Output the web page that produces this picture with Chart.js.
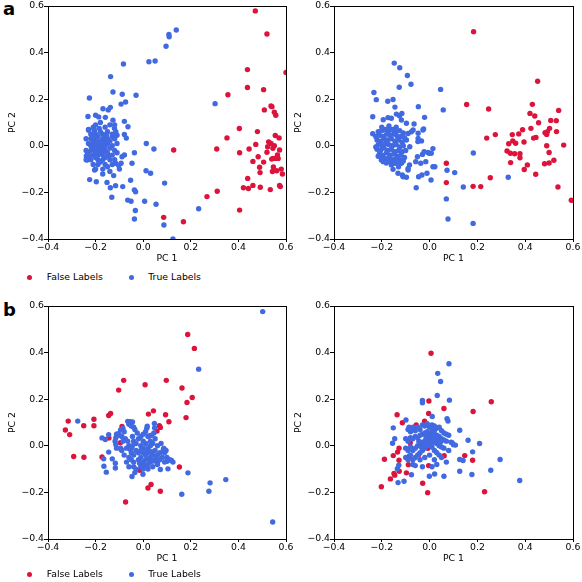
<!DOCTYPE html>
<html><head><meta charset="utf-8">
<script src="https://cdn.jsdelivr.net/npm/chart.js@4"></script>
<style>
html,body{margin:0;padding:0;background:#fff;overflow:hidden;width:582px;height:582px;position:relative}
canvas{position:absolute}
.lab{position:absolute;font:bold 18px "DejaVu Sans";line-height:18px;color:#000}
.leg{position:absolute;font:9.3px "DejaVu Sans";line-height:12px;color:#000;white-space:nowrap}
.dot{position:absolute;width:5px;height:5px;border-radius:50%}
</style></head>
<body>
<div class="lab" style="left:3px;top:0px">a</div>
<div class="lab" style="left:3px;top:301px">b</div>
<canvas id="c1" width="300" height="270" style="left:0px;top:0px"></canvas>
<canvas id="c2" width="296" height="270" style="left:286px;top:0px"></canvas>
<canvas id="c3" width="300" height="270" style="left:0px;top:300px"></canvas>
<canvas id="c4" width="296" height="270" style="left:286px;top:300px"></canvas>
<div id="legA"></div><div id="legB"></div>
<script>
const seriesNames = ["False Labels", "True Labels"];
const seriesColors = ["#DC143C", "#4169E1"];
const axisTicks = [-0.4, -0.2, 0.0, 0.2, 0.4, 0.6];
const xTitle = "PC 1";
const yTitle = "PC 2";

const aLeftFalse = [[0.471,0.579],[0.520,0.480],[0.600,0.315],[0.438,0.327],[0.438,0.250],[0.356,0.219],[0.506,0.241],[0.509,0.154],[0.537,0.171],[0.541,0.168],[0.551,0.144],[0.557,0.131],[0.404,0.074],[0.352,0.034],[0.480,0.061],[0.555,0.044],[0.571,0.034],[0.128,-0.018],[0.309,-0.014],[0.405,-0.030],[0.445,-0.014],[0.473,0.006],[0.527,0.017],[0.537,0.010],[0.551,0.000],[0.523,-0.004],[0.545,-0.011],[0.573,-0.018],[0.520,-0.028],[0.483,-0.047],[0.564,-0.039],[0.567,-0.054],[0.545,-0.054],[0.540,-0.057],[0.555,-0.054],[0.461,-0.067],[0.506,-0.070],[0.489,-0.092],[0.547,-0.091],[0.561,-0.107],[0.543,-0.110],[0.580,-0.100],[0.585,-0.121],[0.491,-0.115],[0.439,-0.140],[0.421,-0.180],[0.442,-0.183],[0.461,-0.170],[0.492,-0.178],[0.534,-0.188],[0.573,-0.170],[0.576,-0.175],[0.311,-0.195],[0.268,-0.218],[0.405,-0.276],[0.169,-0.326],[0.086,-0.307]];
const aLeftTrue = [[0.139,0.497],[0.108,0.478],[0.109,0.468],[0.096,0.427],[0.024,0.361],[0.050,0.364],[-0.083,0.351],[-0.137,0.297],[-0.127,0.231],[-0.226,0.205],[-0.088,0.221],[-0.074,0.188],[-0.093,0.179],[-0.030,0.217],[0.302,0.181],[-0.169,0.159],[-0.147,0.154],[-0.138,0.165],[-0.232,0.126],[-0.200,0.131],[-0.187,0.124],[-0.159,0.122],[-0.127,0.110],[-0.079,0.105],[-0.064,0.082],[-0.121,0.075],[-0.229,0.067],[-0.208,0.075],[-0.079,0.049],[-0.071,0.033],[0.013,0.010],[0.045,-0.014],[-0.037,-0.030],[-0.079,-0.039],[-0.047,-0.075],[0.012,-0.107],[0.031,-0.118],[0.090,-0.160],[-0.053,-0.148],[-0.086,-0.175],[-0.037,-0.190],[-0.032,-0.197],[-0.065,-0.233],[-0.051,-0.238],[0.006,-0.238],[0.054,-0.251],[-0.033,-0.278],[-0.037,-0.314],[0.087,-0.340],[0.125,-0.400],[0.233,-0.270],[-0.132,-0.221],[-0.138,-0.180],[-0.116,-0.171],[-0.152,-0.157],[-0.197,-0.154],[-0.225,-0.145],[-0.204,-0.104],[-0.170,-0.121],[-0.124,-0.128],[-0.116,-0.075],[-0.093,-0.075],[-0.089,-0.047],[-0.103,-0.085],[-0.12,0.09],[-0.115,0.06],[-0.11,0.045],[-0.13,0.05],[-0.1,-0.1],[-0.233,-0.033],[-0.239,-0.044],[-0.236,-0.061],
[-0.23,0.07],[-0.21,0.08],[-0.2,0.09],[-0.18,0.1],[-0.16,0.08],[-0.14,0.09],[-0.22,0.05],[-0.2,0.05],[-0.18,0.06],[-0.17,0.05],[-0.15,0.06],[-0.13,0.04],[-0.24,0.03],[-0.22,0.03],[-0.21,0.02],[-0.2,0.03],[-0.19,0.04],[-0.18,0.02],[-0.17,0.03],[-0.16,0.02],[-0.15,0.03],[-0.14,0.02],[-0.12,0.03],[-0.23,0.01],[-0.22,0.0],[-0.21,0.01],[-0.2,0.0],[-0.19,0.01],[-0.18,0.0],[-0.17,0.01],[-0.16,0.0],[-0.15,0.01],[-0.13,0.0],[-0.11,0.01],[-0.24,-0.02],[-0.22,-0.02],[-0.21,-0.01],[-0.2,-0.02],[-0.19,-0.01],[-0.18,-0.02],[-0.17,-0.01],[-0.16,-0.02],[-0.14,-0.01],[-0.12,-0.02],[-0.23,-0.04],[-0.21,-0.04],[-0.2,-0.03],[-0.19,-0.04],[-0.18,-0.03],[-0.17,-0.04],[-0.15,-0.03],[-0.13,-0.04],[-0.11,-0.03],[-0.24,-0.06],[-0.22,-0.06],[-0.2,-0.05],[-0.19,-0.06],[-0.17,-0.06],[-0.16,-0.05],[-0.14,-0.06],[-0.12,-0.06],[-0.21,-0.08],[-0.19,-0.08],[-0.18,-0.07],[-0.16,-0.08],[-0.15,-0.09],[-0.13,-0.08],[-0.2,-0.1],[-0.17,-0.1],[-0.14,-0.11],[-0.195,0.015],[-0.185,-0.005],[-0.205,-0.005],[-0.175,0.015],[-0.195,-0.025],[-0.165,-0.025],[-0.215,0.035],[-0.155,0.045],[-0.205,0.065],[-0.185,0.075],[-0.225,-0.045],[-0.145,-0.045]];

const aRightFalse = [[0.184,0.490],[0.452,0.277],[0.155,0.177],[0.247,0.158],[0.430,0.178],[0.420,0.139],[0.440,0.128],[0.540,0.152],[0.507,0.109],[0.530,0.108],[0.456,0.099],[0.424,0.075],[0.389,0.069],[0.346,0.048],[0.373,0.051],[0.275,0.048],[0.239,0.033],[0.502,0.075],[0.493,0.061],[0.483,0.056],[0.490,0.049],[0.531,0.061],[0.445,0.036],[0.435,0.033],[0.395,0.016],[0.348,0.021],[0.360,0.011],[0.331,0.009],[0.561,0.003],[0.490,0.000],[0.324,-0.022],[0.338,-0.032],[0.356,-0.034],[0.378,-0.034],[0.378,-0.051],[0.339,-0.072],[0.409,-0.082],[0.396,-0.102],[0.500,-0.029],[0.500,-0.074],[0.481,-0.077],[0.520,-0.062],[0.444,-0.122],[0.537,-0.177],[0.593,-0.234],[0.254,-0.137],[0.214,-0.175],[0.182,-0.174],[0.070,-0.075],[0.070,-0.158]];
const aRightTrue = [[-0.148,0.355],[-0.125,0.335],[-0.093,0.302],[-0.078,0.264],[-0.127,0.251],[-0.233,0.229],[-0.223,0.198],[-0.194,0.112],[-0.175,0.191],[-0.153,0.199],[-0.238,0.125],[-0.238,0.052],[0.046,0.242],[0.057,0.154],[-0.145,0.166],[-0.047,0.168],[-0.021,0.122],[0.183,-0.031],[0.014,-0.012],[0.014,-0.090],[0.105,-0.115],[0.073,-0.105],[0.070,-0.228],[0.077,-0.314],[0.182,-0.333],[0.141,-0.177],[0.329,-0.135],[-0.056,-0.180],[0.006,-0.147],[-0.011,-0.118],[-0.174,0.121],[-0.16,0.118],[-0.139,0.136],[-0.126,0.129],[-0.116,0.139],[-0.118,0.111],[-0.065,0.094],[-0.097,0.097],[-0.069,0.068],[-0.048,0.054],[-0.025,0.072],[-0.048,0.032],[-0.034,0.021],[-0.002,-0.032],[-0.03,-0.037],[-0.051,-0.047],[-0.058,-0.068],[-0.037,-0.075],[-0.016,-0.068],[0.022,-0.09],[-0.032,-0.125],[-0.046,-0.133],[-0.09,-0.104],[-0.114,-0.125],[-0.132,-0.118],[-0.084,-0.082],[-0.118,-0.075],[-0.09,0.053],[-0.076,0.06],[-0.097,0.025],[-0.083,-0.004],[-0.028,0.068],[-0.049,0.018],[-0.023,-0.025],[-0.007,-0.029],[0.007,-0.032],[-0.194,-0.068],[-0.153,-0.101],[-0.090,-0.097],[-0.111,-0.133],[-0.097,-0.135],[-0.202,-0.061],[-0.181,-0.074],[-0.16,-0.082],[-0.13,-0.09],
[-0.215,0.06],[-0.2,0.065],[-0.185,0.07],[-0.17,0.065],[-0.155,0.07],[-0.14,0.06],[-0.125,0.065],[-0.11,0.055],[-0.21,0.045],[-0.195,0.04],[-0.18,0.05],[-0.165,0.045],[-0.15,0.05],[-0.135,0.04],[-0.12,0.04],[-0.105,0.035],[-0.22,0.025],[-0.205,0.02],[-0.19,0.03],[-0.175,0.025],[-0.16,0.03],[-0.145,0.02],[-0.13,0.025],[-0.115,0.015],[-0.215,0.005],[-0.2,0.0],[-0.185,0.01],[-0.17,0.005],[-0.155,0.0],[-0.14,0.005],[-0.125,-0.005],[-0.11,0.0],[-0.22,-0.015],[-0.205,-0.02],[-0.19,-0.01],[-0.175,-0.02],[-0.16,-0.015],[-0.145,-0.025],[-0.13,-0.02],[-0.115,-0.025],[-0.1,-0.02],[-0.21,-0.035],[-0.195,-0.04],[-0.18,-0.03],[-0.165,-0.04],[-0.15,-0.035],[-0.135,-0.045],[-0.12,-0.04],[-0.105,-0.05],[-0.2,-0.05],[-0.185,-0.055],[-0.17,-0.05],[-0.155,-0.06],[-0.14,-0.055],[-0.125,-0.06],[-0.11,-0.065],[-0.175,-0.065],[-0.16,-0.07],[-0.145,-0.075],[-0.13,-0.07],[-0.2,0.08],[-0.17,0.085],[-0.14,0.08],[-0.225,0.04],[-0.225,-0.005],[-0.215,-0.045]];

const bLeftFalse = [[0.187,0.478],[0.215,0.418],[-0.082,0.281],[-0.103,0.239],[0.008,0.262],[0.097,0.281],[0.163,0.248],[0.206,0.207],[0.184,0.186],[0.180,0.121],[0.043,0.150],[0.022,0.136],[0.094,0.133],[0.108,0.103],[0.068,0.086],[0.072,0.079],[0.058,0.063],[0.029,0.043],[-0.137,0.139],[-0.145,0.130],[-0.207,0.114],[-0.207,0.086],[-0.250,0.086],[-0.315,0.106],[-0.327,0.068],[-0.309,0.048],[-0.292,-0.046],[-0.249,-0.049],[-0.173,-0.048],[-0.144,0.034],[-0.089,0.083],[-0.096,0.013],[-0.093,-0.015],[0.086,-0.023],[0.152,-0.091],[-0.015,-0.105],[0.033,-0.166],[0.020,-0.181],[0.072,-0.195],[-0.074,-0.241]];
const bLeftTrue = [[0.502,0.576],[0.544,-0.327],[0.233,0.329],[0.347,-0.145],[0.281,-0.159],[0.276,-0.195],[0.162,-0.208],[0.188,-0.116],[-0.275,0.106],[-0.173,0.034],[-0.145,0.048],[-0.159,0.027],[-0.145,-0.027],[-0.166,-0.056],[-0.130,-0.056],[-0.165,-0.088],[-0.155,-0.113],[-0.117,-0.075],[-0.117,-0.095],[-0.047,-0.132],[-0.001,-0.122],[0.072,-0.102],[0.104,-0.099],[0.087,-0.011],[0.096,-0.020],[0.047,0.096],[0.048,0.077],[0.017,0.084],[0.100,-0.066],[0.118,-0.062],[0.125,-0.070],
[-0.065,0.105],[-0.055,0.103],[-0.045,0.102],[-0.06,0.092],[-0.05,0.085],[-0.04,0.08],[-0.035,0.07],[-0.085,0.075],[-0.095,0.068],[-0.105,0.052],[-0.112,0.05],[-0.115,0.035],[-0.118,0.02],[-0.115,0.005],[-0.112,-0.01],[-0.1,0.045],[-0.08,0.06],[-0.09,0.04],[-0.075,0.03],[-0.085,0.02],[-0.095,-0.01],
[-0.06,0.0],[-0.05,-0.01],[-0.04,0.02],[-0.03,0.01],[-0.02,0.03],[-0.01,0.04],[0.0,0.05],[0.01,0.06],[0.02,0.04],[0.03,0.02],[0.0,0.02],[-0.01,0.0],[0.0,-0.01],[0.01,0.01],[0.02,-0.01],[0.03,0.0],[0.04,0.01],[0.05,0.03],[0.06,0.0],[0.05,-0.02],[-0.05,-0.03],[-0.04,-0.04],[-0.03,-0.02],[-0.02,-0.03],[-0.01,-0.02],[0.0,-0.03],[0.01,-0.04],[0.02,-0.03],[0.03,-0.05],[0.04,-0.04],[0.06,-0.04],[0.07,-0.03],[0.08,-0.05],[-0.06,-0.05],[-0.05,-0.06],[-0.04,-0.07],[-0.02,-0.06],[-0.01,-0.05],[0.0,-0.07],[0.01,-0.06],[0.02,-0.08],[0.03,-0.07],[0.05,-0.06],[0.06,-0.07],[0.07,-0.06],[0.09,-0.07],[0.1,-0.05],[-0.07,-0.07],[-0.06,-0.09],[-0.04,-0.09],[-0.03,-0.1],[-0.01,-0.09],[0.0,-0.1],[0.02,-0.1],[0.04,-0.09],[0.06,-0.08],[-0.08,-0.04],[-0.09,-0.02],[-0.07,-0.01],[0.045,0.055],[0.035,0.045],[0.015,0.075],[-0.025,0.055],[-0.045,0.04],[0.075,0.01],[0.085,-0.015],[0.09,-0.03],[0.11,-0.06],[-0.035,-0.115],[0.005,-0.085],[0.025,-0.055],[-0.015,-0.075],[0.045,-0.065],[0.055,-0.045],[-0.055,-0.015],[-0.065,0.02],[-0.045,0.0],[0.015,-0.015],[0.035,-0.025]];

const bRightFalse = [[0.006,0.397],[0.258,0.189],[0.182,0.147],[0.060,0.160],[-0.003,0.192],[-0.004,0.139],[-0.136,0.133],[-0.114,0.099],[-0.056,0.089],[-0.021,0.106],[0.147,-0.042],[0.180,-0.062],[0.230,-0.197],[-0.008,-0.201],[-0.029,-0.161],[-0.097,-0.116],[-0.202,-0.176],[-0.189,-0.058],[-0.152,-0.042],[-0.128,-0.010],[-0.134,-0.027],[-0.128,-0.062],[-0.149,-0.119],[-0.146,-0.126],[-0.164,-0.142],[-0.127,-0.109],[-0.089,-0.081],[-0.085,-0.045],[-0.081,0.013],[-0.046,-0.038],[-0.004,-0.085],[0.061,-0.043],[-0.007,-0.011]];
const bRightTrue = [[0.081,0.352],[0.034,0.311],[0.046,0.276],[0.032,0.216],[0.083,0.196],[-0.030,0.195],[-0.030,0.185],[-0.152,0.077],[-0.099,0.111],[-0.146,0.030],[-0.155,0.011],[-0.086,0.080],[-0.069,0.080],[0.011,0.126],[0.073,0.116],[0.077,0.106],[0.126,0.067],[0.161,0.024],[0.209,0.010],[0.180,-0.026],[0.295,-0.059],[0.256,-0.105],[0.377,-0.149],[0.177,-0.123],[0.126,-0.109],[0.060,-0.131],[0.021,-0.121],[-0.001,-0.131],[-0.076,-0.124],[-0.107,-0.152],[-0.132,-0.158],[-0.135,-0.098],[-0.129,-0.083],[0.140,-0.063],[0.126,-0.059],[0.108,0.003],[0.094,0.013],
[-0.09,0.07],[-0.08,0.06],[-0.07,0.075],[-0.06,0.065],[-0.05,0.08],[-0.04,0.07],[-0.03,0.09],[-0.02,0.085],[-0.01,0.095],[0.0,0.08],[0.01,0.09],[0.02,0.085],[0.03,0.075],[0.04,0.08],[0.05,0.065],[0.06,0.055],[0.07,0.05],[0.08,0.045],[-0.1,0.03],[-0.09,0.02],[-0.08,0.035],[-0.07,0.03],[-0.06,0.04],[-0.05,0.035],[-0.04,0.045],[-0.03,0.05],[-0.02,0.055],[-0.01,0.06],[0.0,0.05],[0.01,0.055],[0.02,0.05],[0.03,0.045],[0.04,0.04],[0.05,0.03],[0.06,0.025],[0.07,0.02],[0.09,0.015],[0.1,0.005],[-0.1,-0.01],[-0.09,-0.02],[-0.08,-0.005],[-0.07,-0.02],[-0.06,-0.01],[-0.05,0.0],[-0.04,0.01],[-0.03,0.015],[-0.02,0.02],[-0.01,0.025],[0.0,0.03],[0.01,0.02],[0.02,0.015],[0.03,0.01],[0.04,0.0],[0.05,-0.005],[0.06,-0.01],[0.08,-0.02],[-0.1,-0.05],[-0.09,-0.06],[-0.08,-0.04],[-0.07,-0.06],[-0.06,-0.05],[-0.05,-0.04],[-0.04,-0.03],[-0.03,-0.02],[-0.02,-0.01],[-0.01,0.0],[0.0,0.01],[0.01,-0.005],[0.02,-0.02],[0.03,-0.03],[0.04,-0.04],[0.05,-0.05],[0.07,-0.07],[-0.07,-0.08],[-0.06,-0.085],[-0.04,-0.06],[-0.02,-0.05],[0.0,-0.04],[0.02,-0.06],[0.03,-0.08],[0.01,-0.09],[-0.03,-0.09],[0.005,0.04],[0.015,0.035],[-0.005,0.045],[0.025,0.025],[-0.015,0.035],[0.005,0.0],[-0.025,0.005],[0.035,0.02],[-0.035,-0.005],[0.045,0.015],[-0.045,0.02],[0.01,0.07],[0.02,0.065]];

Chart.defaults.font.family = "'DejaVu Sans'";
Chart.defaults.font.size = 9.3;
Chart.defaults.color = '#000';

const fmt = v => { const r = Math.round(v * 10) / 10; return (r < 0 ? '\u2212' : '') + Math.abs(r).toFixed(1); };
const frame = {
  id: 'frame',
  afterDatasetsDraw(chart) {
    const {ctx, chartArea: a} = chart;
    const al = p => Math.round(p - 0.5) + 0.5;
    ctx.save();
    ctx.strokeStyle = '#000'; ctx.lineWidth = 1;
    const l = al(a.left), t = al(a.top), r = al(a.right), b = al(a.bottom);
    ctx.strokeRect(l, t, r - l, b - t);
    ctx.restore();
  }
};
const toPts = arr => arr.map(([x, y]) => ({x, y}));

function makeChart(id, falseData, trueData, padRight) {
  new Chart(document.getElementById(id), {
    type: 'scatter',
    data: {
      datasets: [
        {label: seriesNames[0], data: toPts(falseData), backgroundColor: seriesColors[0], borderWidth: 0, pointRadius: 2.7, order: 1, clip: 0},
        {label: seriesNames[1], data: toPts(trueData), backgroundColor: seriesColors[1], borderWidth: 0, pointRadius: 2.7, order: 0, clip: 0}
      ]
    },
    options: {
      responsive: false, animation: false, events: [],
      layout: {padding: {left: 0, top: 6, right: padRight, bottom: 6}},
      plugins: {legend: {display: false}, tooltip: {enabled: false}},
      scales: {
        x: {
          type: 'linear', min: axisTicks[0], max: axisTicks[axisTicks.length - 1],
          afterBuildTicks: s => { s.ticks = axisTicks.map(v => ({value: v})); },
          ticks: {callback: fmt, padding: 0, maxRotation: 0, autoSkip: false, color: '#000'},
          grid: {drawOnChartArea: false, drawTicks: true, tickLength: 3, color: '#000', lineWidth: 1},
          border: {display: true, color: '#000', width: 1},
          title: {display: true, text: xTitle, padding: {top: 0, bottom: 0}, color: '#000'},
          afterFit: s => { s.height = 25; }
        },
        y: {
          type: 'linear', min: axisTicks[0], max: axisTicks[axisTicks.length - 1],
          afterBuildTicks: s => { s.ticks = axisTicks.map(v => ({value: v})); },
          ticks: {callback: fmt, padding: 0, autoSkip: false, color: '#000'},
          grid: {drawOnChartArea: false, drawTicks: true, tickLength: 4, color: '#000', lineWidth: 1},
          border: {display: true, color: '#000', width: 1},
          title: {display: true, text: yTitle, padding: {top: 7, bottom: 0}, color: '#000'},
          afterFit: s => { s.width = 48; }
        }
      }
    },
    plugins: [frame]
  });
}
makeChart('c1', aLeftFalse, aLeftTrue, 14);
makeChart('c2', aRightFalse, aRightTrue, 9);
makeChart('c3', bLeftFalse, bLeftTrue, 14);
makeChart('c4', bRightFalse, bRightTrue, 9);

function legend(elId, cy) {
  const el = document.getElementById(elId);
  const dotX = [29.3, 131.7], textX = [46.7, 148.3];
  seriesNames.forEach((n, i) => {
    const d = document.createElement('div');
    d.className = 'dot'; d.style.background = seriesColors[i];
    d.style.left = (dotX[i] - 2.5) + 'px'; d.style.top = (cy - 2.5) + 'px';
    el.appendChild(d);
    const t = document.createElement('div');
    t.className = 'leg'; t.textContent = n;
    t.style.left = textX[i] + 'px'; t.style.top = (cy - 6) + 'px';
    el.appendChild(t);
  });
}
legend('legA', 277);
legend('legB', 574);
</script>
</body></html>
